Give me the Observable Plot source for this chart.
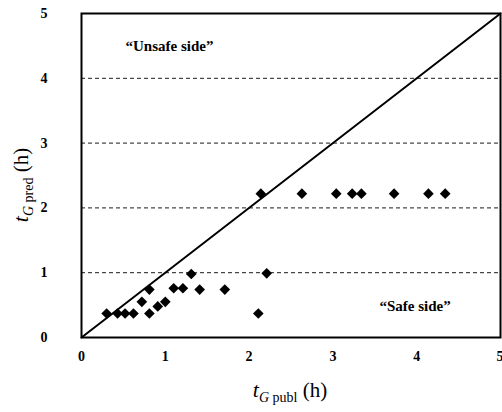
<!DOCTYPE html>
<html><head><meta charset="utf-8">
<script src="https://cdn.jsdelivr.net/npm/d3@7"></script>
<script src="https://cdn.jsdelivr.net/npm/@observablehq/plot@0.6"></script>
<style>body{margin:0;background:#fff}</style>
</head><body><div id="chart"></div>
<script>
const tPubl = [0.30,0.43,0.52,0.62,0.81,0.72,0.81,0.91,1.00,1.10,1.21,1.31,1.41,1.71,2.11,2.21,2.14,2.63,3.04,3.23,3.34,3.73,4.14,4.34];
const tPred = [0.37,0.37,0.37,0.37,0.37,0.55,0.74,0.48,0.55,0.76,0.76,0.98,0.74,0.74,0.37,0.99,2.22,2.22,2.22,2.22,2.22,2.22,2.22,2.22];
const ticks = [0,1,2,3,4,5];
const gridY = [1,2,3,4];
const diag = [0,5];
const notes = [{x:1.05,y:4.5,label:"“Unsafe side”"},{x:3.98,y:0.49,label:"“Safe side”"}];

const pts = tPubl.map((x,i)=>({x, y:tPred[i]}));
const chart = Plot.plot({
  width:502, height:412,
  marginLeft:81, marginRight:2, marginTop:13, marginBottom:75,
  style:{fontFamily:"'Liberation Serif', serif", fontSize:"14px", fontWeight:"bold", background:"#fff"},
  x:{domain:[0,5], ticks, tickFormat:d=>String(d), tickSize:0, tickPadding:14, label:null},
  y:{domain:[0,5], ticks, tickFormat:d=>String(d), tickSize:0, tickPadding:34, label:null},
  marks:[
    Plot.ruleY(gridY,{stroke:"#000", strokeWidth:0.9, strokeDasharray:"4,3"}),
    Plot.line(diag.map(v=>({x:v,y:v})),{x:"x",y:"y",stroke:"#000",strokeWidth:2}),
    Plot.dot(pts,{x:"x",y:"y",symbol:"diamond2",r:4.8,fill:"#000",stroke:"none"}),
    Plot.text(notes,{x:"x",y:"y",text:"label",fontSize:15,fontWeight:"bold",fill:"#000"}),
    Plot.frame({stroke:"#000",strokeWidth:2})
  ]
});
document.getElementById("chart").appendChild(chart);
const svg = d3.select(chart);
svg.selectAll("g[aria-label$='tick label'] text").attr("fill","#000");
svg.selectAll("g[aria-label='x-axis tick label'] text").filter(function(){return this.textContent==="5";}).attr("text-anchor","end").attr("dx",3);
function label(x,y,rot,sub){
  const t = svg.append("text").attr("transform",`translate(${x},${y}) rotate(${rot})`)
    .attr("text-anchor","middle").attr("font-family","'Liberation Serif', serif").attr("fill","#000").attr("font-weight","normal");
  t.append("tspan").attr("font-style","italic").attr("font-size",22).text("t");
  t.append("tspan").attr("font-style","italic").attr("font-size",14).attr("dy",5).text("G");
  t.append("tspan").attr("font-size",14).text(" "+sub);
  t.append("tspan").attr("font-size",21).attr("dy",-5).text(" (h)");
}
label(290,397,0,"publ");
label(28,185,-90,"pred");
</script></body></html>
